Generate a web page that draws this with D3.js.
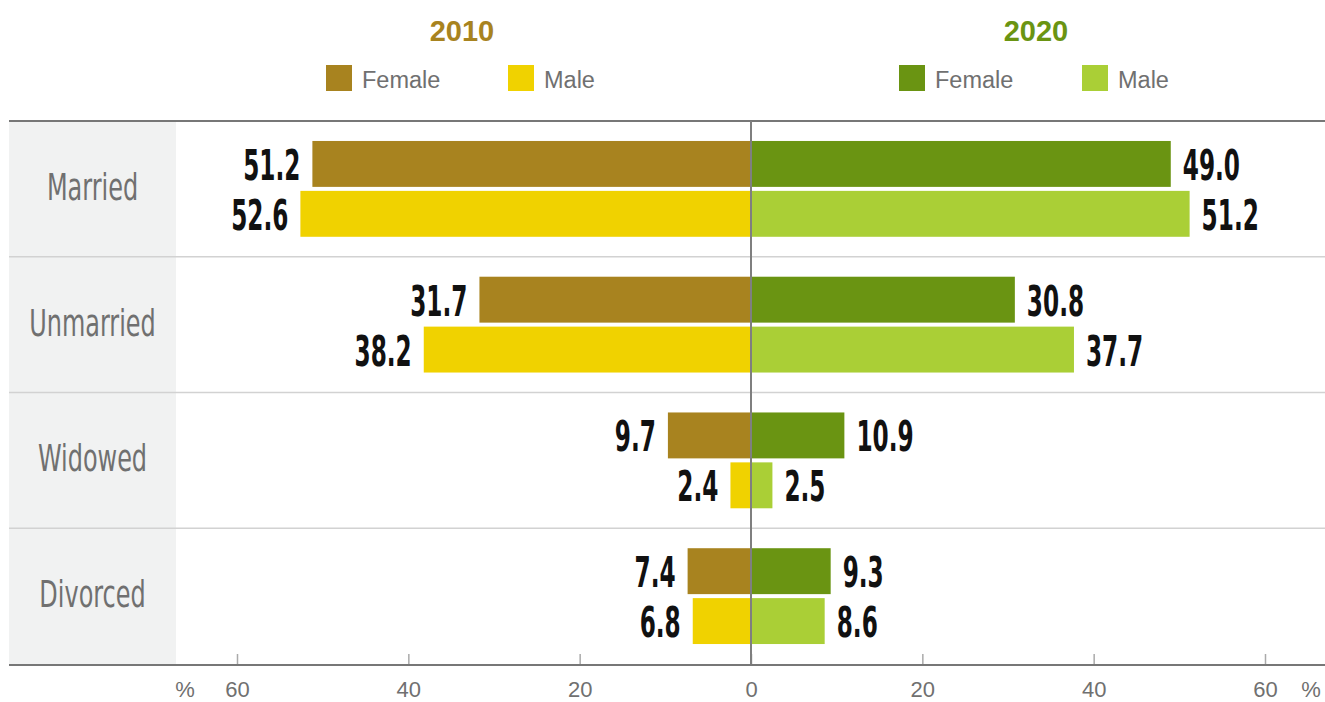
<!DOCTYPE html>
<html>
<head>
<meta charset="utf-8">
<script src="https://cdn.jsdelivr.net/npm/d3@7"></script>
<style>
  body { margin: 0; background: #fff; }
  svg { display: block; }
</style>
</head>
<body>
<div id="vis"></div>
<script>
const WIDTH = 1325;
const HEIGHT = 702;

// data
const categories = ["Married", "Unmarried", "Widowed", "Divorced"];
const female2010 = [51.2, 31.7, 9.7, 7.4];
const male2010 = [52.6, 38.2, 2.4, 6.8];
const female2020 = [49.0, 30.8, 10.9, 9.3];
const male2020 = [51.2, 37.7, 2.5, 8.6];
const years = ["2010", "2020"];
const sexes = ["Female", "Male"];
const leftTicks = [20, 40, 60];
const rightTicks = [0, 20, 40, 60];

const colours = {
	"2010": { Female: "#a8831f", Male: "#f0d200", title: "#a8831f" },
	"2020": { Female: "#6a9412", Male: "#aacf36", title: "#6a9412" }
};

const fmt = d3.format(".1f");
const numFont = "'Liberation Sans Narrow', 'DejaVu Sans Condensed', sans-serif";
const plainFont = "Arial, 'Liberation Sans', sans-serif";

// rows as objects
const rows = categories.map((c, i) => ({
	category: c,
	"2010": { Female: female2010[i], Male: male2010[i] },
	"2020": { Female: female2020[i], Male: male2020[i] }
}));

const svg = d3.select("#vis").append("svg")
	.attr("width", WIDTH)
	.attr("height", HEIGHT);

const plotTop = 121, plotBottom = 664, centre = 751;
const leftEdge = 9, catWidth = 167;

// scales
const xLeft = d3.scaleLinear().domain([0, 60]).range([centre, 237]);
const xRight = d3.scaleLinear().domain([0, 60]).range([centre, 1265]);
const y = d3.scaleBand().domain(categories).range([plotTop, plotBottom]);
const ySex = d3.scaleBand().domain(sexes).range([0, y.bandwidth()])
	.paddingInner(0.08).paddingOuter(0.4);

// category background
svg.append("rect")
	.attr("x", leftEdge).attr("y", plotTop)
	.attr("width", catWidth).attr("height", plotBottom - plotTop)
	.attr("fill", "#f1f2f2");

// row separators
svg.selectAll(".sep")
	.data(categories.slice(1))
	.enter().append("line")
	.attr("class", "sep")
	.attr("x1", leftEdge).attr("x2", WIDTH)
	.attr("y1", d => y(d)).attr("y2", d => y(d))
	.attr("stroke", "#d2d2d2").attr("stroke-width", 1.5);

// category labels
svg.selectAll(".cat")
	.data(categories)
	.enter().append("text")
	.attr("class", "cat")
	.attr("transform", d => `translate(${leftEdge + catWidth / 2},${y(d) + y.bandwidth() / 2 + 11}) scale(0.72,1)`)
	.attr("text-anchor", "middle")
	.style("font-family", numFont)
	.style("font-size", "37px")
	.attr("fill", "#707070")
	.text(d => d);

// bars
years.forEach(year => {
	const x = year === "2010" ? xLeft : xRight;
	const g = svg.append("g");
	sexes.forEach(sex => {
		g.selectAll(".bar-" + sex)
			.data(rows)
			.enter().append("rect")
			.attr("x", d => Math.min(x(0), x(d[year][sex])))
			.attr("width", d => Math.abs(x(d[year][sex]) - x(0)))
			.attr("y", d => y(d.category) + ySex(sex))
			.attr("height", ySex.bandwidth())
			.attr("fill", colours[year][sex]);

		g.selectAll(".lab-" + sex)
			.data(rows)
			.enter().append("text")
			.attr("transform", d => {
				const v = x(d[year][sex]);
				const tx = year === "2010" ? v - 12 : v + 12;
				const ty = y(d.category) + ySex(sex) + ySex.bandwidth() / 2 + 16;
				return `translate(${tx},${ty}) scale(0.6,1)`;
			})
			.attr("text-anchor", year === "2010" ? "end" : "start")
			.style("font-family", numFont)
			.style("font-weight", "bold")
			.style("font-size", "43px")
			.attr("fill", "#111")
			.text(d => fmt(d[year][sex]));
	});
});

// top rule
svg.append("line")
	.attr("x1", leftEdge).attr("x2", WIDTH)
	.attr("y1", plotTop).attr("y2", plotTop)
	.attr("stroke", "#777").attr("stroke-width", 2);

// axes
function drawAxis(scale, ticks) {
	const ax = svg.append("g")
		.attr("transform", `translate(0,${plotBottom})`)
		.call(d3.axisBottom(scale).tickValues(ticks).tickSize(-10).tickFormat(d3.format("d")));
	ax.select(".domain").remove();
	ax.selectAll(".tick line").attr("stroke", "#aaa").attr("stroke-width", 1.5);
	ax.selectAll(".tick text")
		.attr("y", 33).attr("dy", null)
		.attr("fill", "#707070")
		.style("font-family", plainFont)
		.style("font-size", "22px");
	return ax;
}
drawAxis(xLeft, leftTicks);
drawAxis(xRight, rightTicks);

svg.append("line")
	.attr("x1", leftEdge).attr("x2", WIDTH)
	.attr("y1", plotBottom + 1).attr("y2", plotBottom + 1)
	.attr("stroke", "#777").attr("stroke-width", 2);

// centre line
svg.append("line")
	.attr("x1", centre).attr("x2", centre)
	.attr("y1", plotTop).attr("y2", plotBottom)
	.attr("stroke", "#7f7f7f").attr("stroke-width", 2);

// % units
svg.selectAll(".pct")
	.data([185, 1311])
	.enter().append("text")
	.attr("x", d => d).attr("y", 697)
	.attr("text-anchor", "middle")
	.attr("fill", "#707070")
	.style("font-family", plainFont)
	.style("font-size", "22px")
	.text("%");

// titles and legends
const headers = [
	{ year: "2010", cx: 462, keys: [326, 508] },
	{ year: "2020", cx: 1036, keys: [899, 1082] }
];
headers.forEach(h => {
	svg.append("text")
		.attr("x", h.cx).attr("y", 41)
		.attr("text-anchor", "middle")
		.style("font-family", plainFont)
		.style("font-weight", "bold")
		.style("font-size", "29px")
		.attr("fill", colours[h.year].title)
		.text(h.year);

	sexes.forEach((sex, i) => {
		svg.append("rect")
			.attr("x", h.keys[i]).attr("y", 65)
			.attr("width", 26).attr("height", 26)
			.attr("fill", colours[h.year][sex]);
		svg.append("text")
			.attr("x", h.keys[i] + 36).attr("y", 88)
			.style("font-family", plainFont)
			.style("font-size", "23.5px")
			.attr("fill", "#707070")
			.text(sex);
	});
});
</script>
</body>
</html>
